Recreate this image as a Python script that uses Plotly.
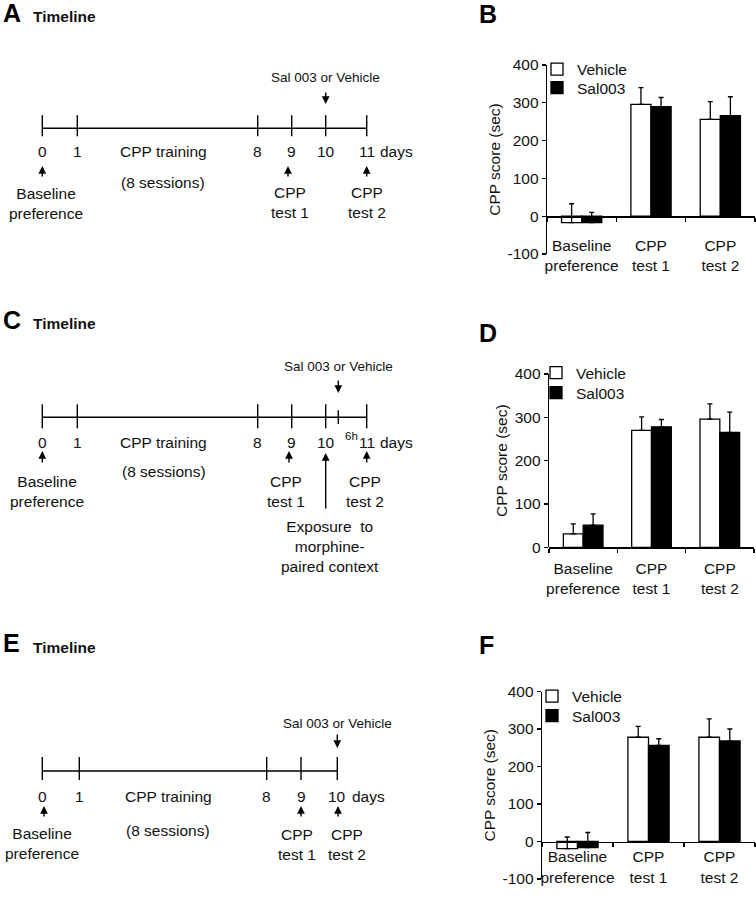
import plotly.graph_objects as go

FONT = "Liberation Sans"
INK = "#111111"
W, H = 756, 899

# ---------------- data ----------------
categories = ["Baseline<br>preference", "CPP<br>test 1", "CPP<br>test 2"]
series_names = ["Vehicle", "Sal003"]

b_vehicle = [-17, 296, 256]
b_vehicle_err = [50, 44, 47]
b_sal = [-17, 290, 266]
b_sal_err = [27, 24, 50]

d_vehicle = [31, 270, 296]
d_vehicle_err = [23, 31, 35]
d_sal = [51, 278, 265]
d_sal_err = [26, 17, 47]

f_vehicle = [-19, 278, 278]
f_vehicle_err = [31, 29, 49]
f_sal = [-16, 256, 268]
f_sal_err = [40, 18, 32]

y_ticks_neg = [-100, 0, 100, 200, 300, 400]
y_ticks_pos = [0, 100, 200, 300, 400]

timeline_a_labels = ["0", "1", "8", "9", "10", "11"]
timeline_c_labels = ["0", "1", "8", "9", "10", "6h", "11"]
timeline_e_labels = ["0", "1", "8", "9", "10"]

drug_text = "Sal 003 or Vehicle"
training_text = "CPP training"
sessions_text = "(8 sessions)"
baseline_text = "Baseline<br>preference"
test1_text = "CPP<br>test 1"
test2_text = "CPP<br>test 2"
exposure_text = "Exposure  to<br>morphine-<br>paired context"

# ---------------- layout helpers (pixels -> paper) ----------------
def fx(x):
    return x / W


def fy(y):
    return 1 - y / H


BAR_FS = 15.5
TL_FS = 15.5

fig = go.Figure()
layout = dict(
    width=W, height=H, margin=dict(l=0, r=0, t=0, b=0),
    paper_bgcolor="white", plot_bgcolor="rgba(0,0,0,0)",
    font=dict(family=FONT, size=BAR_FS, color=INK),
    barmode="group", bargap=0.42, bargroupgap=0,
    showlegend=True,
)
annotations = []
shapes = []

# ---------------- bar panels B, D, F ----------------
bar_panels = [
    dict(veh=b_vehicle, veh_err=b_vehicle_err, sal=b_sal, sal_err=b_sal_err,
         yrange=[-100, 400], yticks=y_ticks_neg, box=(547, 65, 755, 254),
         standoff=15, legend_x=537, legend_y=(52.5, 71), letter="B", letter_at=(477, 14)),
    dict(veh=d_vehicle, veh_err=d_vehicle_err, sal=d_sal, sal_err=d_sal_err,
         yrange=[0, 400], yticks=y_ticks_pos, box=(549, 374, 754, 547.3),
         standoff=7, legend_x=536, legend_y=(356, 376), letter="D", letter_at=(477, 333)),
    dict(veh=f_vehicle, veh_err=f_vehicle_err, sal=f_sal, sal_err=f_sal_err,
         yrange=[-100, 400], yticks=y_ticks_neg, box=(542, 691.5, 755, 879),
         standoff=1, legend_x=532, legend_y=(679.5, 699), letter="F", letter_at=(477, 645)),
]

leg_counter = 0
for i, p in enumerate(bar_panels, start=1):
    sfx = "" if i == 1 else str(i)
    xa, ya = "x" + sfx, "y" + sfx
    x0, y0, x1, y1 = p["box"]
    ydom = [fy(y1), fy(y0)]
    lo, hi = p["yrange"]
    zero_pos = ydom[0] + (0 - lo) / (hi - lo) * (ydom[1] - ydom[0])

    for k, (name, vals, errs, color) in enumerate([
        (series_names[0], p["veh"], p["veh_err"], "white"),
        (series_names[1], p["sal"], p["sal_err"], "black"),
    ]):
        leg_counter += 1
        leg = "legend" if leg_counter == 1 else "legend%d" % leg_counter
        fig.add_trace(go.Bar(
            x=categories, y=vals, name=name, xaxis=xa, yaxis=ya, legend=leg,
            marker=dict(color=color, line=dict(color="black", width=1.3)),
            error_y=dict(type="data", array=errs, arrayminus=[0] * len(errs),
                         symmetric=False, color="black", thickness=1.3, width=2.5),
            hoverinfo="skip",
        ))
        layout[leg] = dict(
            x=fx(p["legend_x"]), y=fy(p["legend_y"][k]), xanchor="left", yanchor="top",
            bgcolor="rgba(0,0,0,0)", font=dict(size=BAR_FS, color=INK), itemwidth=30,
            itemclick=False, itemdoubleclick=False,
        )

    layout["xaxis" + sfx] = dict(
        domain=[fx(x0), fx(x1)], type="category", anchor="free", position=zero_pos,
        showline=True, linecolor="black", linewidth=1.3, tickangle=0,
        ticks="outside", tickson="boundaries", ticklen=4, tickwidth=1.2, tickcolor="black",
        showgrid=False, zeroline=False, tickfont=dict(size=BAR_FS, color=INK),
        ticklabelstandoff=p["standoff"], automargin=False, fixedrange=True,
    )
    layout["yaxis" + sfx] = dict(
        domain=ydom, range=p["yrange"], anchor=xa, tickmode="array",
        tickvals=p["yticks"], ticktext=[str(v) for v in p["yticks"]],
        showline=True, linecolor="black", linewidth=1.3,
        ticks="outside", ticklen=4, tickwidth=1.2, tickcolor="black",
        showgrid=False, zeroline=False, tickfont=dict(size=BAR_FS, color=INK),
        title=dict(text="CPP score (sec)", font=dict(size=BAR_FS, color=INK), standoff=3),
        automargin=False, fixedrange=True,
    )
    annotations.append(dict(
        xref="paper", yref="paper", x=fx(p["letter_at"][0]), y=fy(p["letter_at"][1]),
        text="<b>%s</b>" % p["letter"], showarrow=False, xanchor="left", yanchor="middle",
        font=dict(size=25, family=FONT, color="black"),
    ))

# ---------------- timelines A, C, E (pixel-space overlay axis) ----------------
layout["xaxis4"] = dict(domain=[0, 1], range=[0, W], visible=False, anchor="y4", fixedrange=True)
layout["yaxis4"] = dict(domain=[0, 1], range=[H, 0], visible=False, anchor="x4", fixedrange=True)

timelines = [
    dict(letter="A", labels=timeline_a_labels, letter_y=13, title_y=16,
         pos=[42.3, 77.3, 257.7, 291.7, 325.7, 366.7], line_y=128.3, tick_up=13, tick_dn=8,
         drug_idx=4, drug_text_y=77, drug_arrow=(91, 104),
         label_y=151.7, days_x=378, training_x=163, sessions_y=182.7,
         up_arrows=[(42.3, 166, 178), (288, 166, 178), (366.7, 166, 178)],
         below=[(46, 203, baseline_text), (290, 202, test1_text), (367, 202, test2_text)]),
    dict(letter="C", labels=timeline_c_labels, letter_y=320, title_y=323,
         pos=[42.3, 77.3, 257.7, 291.7, 325.7, 338.3, 366.7], line_y=417.3, tick_up=13, tick_dn=11,
         drug_idx=5, drug_text_y=366.7, drug_arrow=(379, 393),
         label_y=442.3, days_x=378, training_x=163.5, sessions_y=471.7,
         up_arrows=[(42.3, 451, 464), (289, 451, 464), (366.7, 451, 464), (325.7, 453, 510)],
         below=[(46.5, 491.7, baseline_text), (286, 491.7, test1_text), (365, 491.7, test2_text),
                (330, 546.5, exposure_text)]),
    dict(letter="E", labels=timeline_e_labels, letter_y=643, title_y=647,
         pos=[42.3, 79.3, 266.7, 301, 337.3], line_y=771, tick_up=14, tick_dn=9,
         drug_idx=4, drug_text_y=723.3, drug_arrow=(733, 748),
         label_y=796, days_x=350, training_x=168, sessions_y=830,
         up_arrows=[(44, 806, 818), (301, 806, 818), (338, 806, 818)],
         below=[(42, 843, baseline_text), (297, 844, test1_text), (346.5, 844, test2_text)]),
]


def txt(x, y, s, size=TL_FS, xanchor="center", bold=False):
    annotations.append(dict(
        xref="x4", yref="y4", x=x, y=y, text=("<b>%s</b>" % s) if bold else s,
        showarrow=False, xanchor=xanchor, yanchor="middle",
        font=dict(size=size, family=FONT, color=INK),
    ))


def arrow(x, y_head, y_tail):
    annotations.append(dict(
        xref="x4", yref="y4", axref="x4", ayref="y4", x=x, y=y_head, ax=x, ay=y_tail,
        text="", showarrow=True, arrowhead=2, arrowsize=1.1, arrowwidth=1.4,
        arrowcolor="black", standoff=0, startstandoff=0,
    ))


for t in timelines:
    pos = t["pos"]
    ly = t["line_y"]
    # base line
    fig.add_trace(go.Scatter(
        x=[pos[0], pos[-1]], y=[ly, ly], mode="lines", xaxis="x4", yaxis="y4",
        line=dict(color="black", width=1.4), showlegend=False, hoverinfo="skip",
    ))
    # ticks
    for lab, xp in zip(t["labels"], pos):
        short = lab.endswith("h")
        up = t["tick_up"] * (0.55 if short else 1)
        dn = t["tick_dn"] * (0.6 if short else 1)
        shapes.append(dict(type="line", xref="x4", yref="y4", x0=xp, x1=xp,
                           y0=ly - up, y1=ly + dn, line=dict(color="black", width=1.4)))
        if short:
            txt(xp + 13, t["label_y"] - 6, lab, size=11.5)
        else:
            txt(xp, t["label_y"], lab)
    txt(t["days_x"], t["label_y"], "days", xanchor="left")
    txt(t["training_x"], t["label_y"], training_text)
    txt(t["training_x"], t["sessions_y"], sessions_text)
    # drug injection
    dx = pos[t["drug_idx"]]
    txt(dx, t["drug_text_y"], drug_text, size=13.5)
    arrow(dx, t["drug_arrow"][1], t["drug_arrow"][0])
    # up arrows
    for ax_, yh, yt in t["up_arrows"]:
        arrow(ax_, yh, yt)
    for bx, by, s in t["below"]:
        txt(bx, by, s)
    # panel letter and title
    annotations.append(dict(
        xref="x4", yref="y4", x=0.5, y=t["letter_y"], text="<b>%s</b>" % t["letter"],
        showarrow=False, xanchor="left", yanchor="middle",
        font=dict(size=25, family=FONT, color="black"),
    ))
    txt(31, t["title_y"], "Timeline", size=15.5, xanchor="left", bold=True)

layout["annotations"] = annotations
layout["shapes"] = shapes
fig.update_layout(**layout)

fig.write_html(
    "out.html",
    config={"displayModeBar": False, "staticPlot": True},
    post_script="document.body.style.margin='0';document.body.style.overflow='hidden';",
)
